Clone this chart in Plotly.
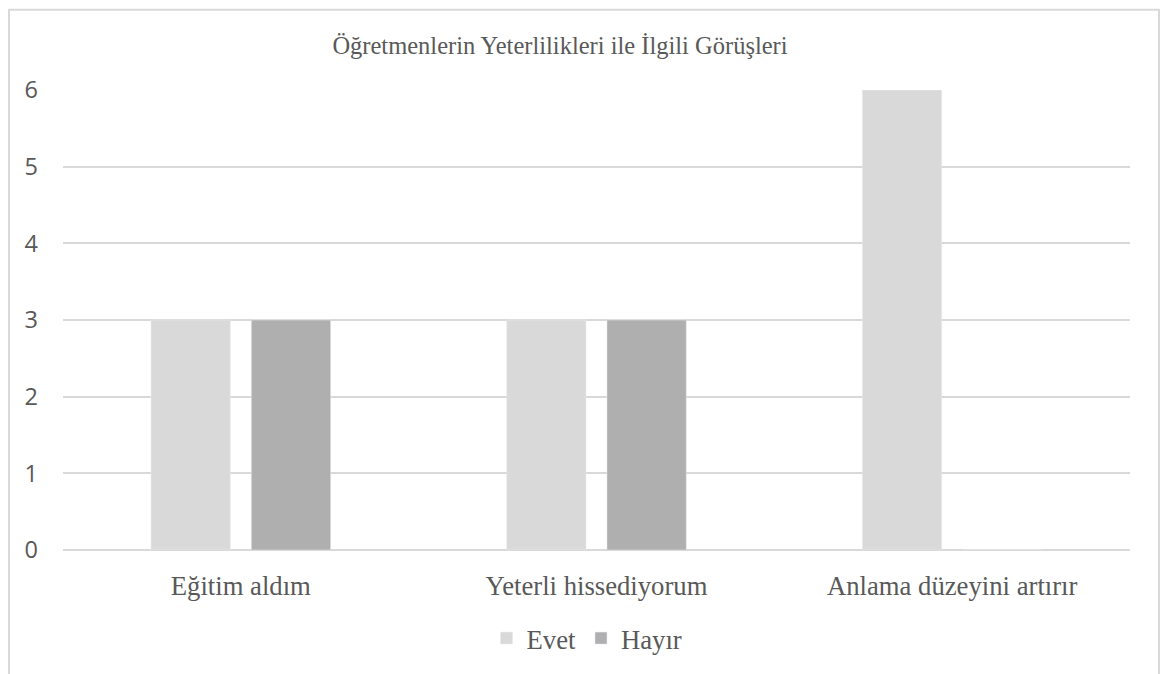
import plotly.graph_objects as go

categories = ["Eğitim aldım", "Yeterli hissediyorum", "Anlama düzeyini artırır"]
evet = [3, 3, 6]
hayir = [3, 3, 0]
y_ticks = [0, 1, 2, 3, 4, 5, 6]

serif = "Liberation Serif, Times New Roman, serif"
sans = "Open Sans, Calibri, sans-serif"
text_col = "#595959"

fig = go.Figure()
fig.add_trace(go.Bar(name="Evet", x=categories, y=evet, marker_color="#d9d9d9"))
fig.add_trace(go.Bar(name="Hayır", x=categories, y=hayir, marker_color="#afafaf"))

# page body has an 8px margin; work in screen coords and subtract it
OFF = 8
W, H = 1170 - OFF, 674 - OFF
left, right, top, bottom = 63, 1130, 90, 554  # plot area in screen coords
ml, mr, mt, mb = left - OFF, W - (right - OFF), top - OFF, H - (bottom - OFF)
pw, ph = W - ml - mr, H - mt - mb

def px(x):
    return (x - OFF - ml) / pw

def py(y):
    return (H - mb - (y - OFF)) / ph

fig.update_layout(
    width=W, height=H,
    margin=dict(l=ml, r=mr, t=mt, b=mb),
    paper_bgcolor="white", plot_bgcolor="white",
    barmode="group", bargap=0.436, bargroupgap=0.209,
    title=dict(text="Öğretmenlerin Yeterlilikleri ile İlgili Görüşleri",
               xref="container", x=(560 - OFF) / W, xanchor="center",
               y=1 - (45 - OFF) / H, yanchor="middle",
               font=dict(family=serif, size=24.5, color=text_col)),
    xaxis=dict(showgrid=False, showline=False, ticks="",
               tickfont=dict(family=serif, size=26.7, color=text_col),
               ticklabelstandoff=17),
    yaxis=dict(range=[0, 6], tickvals=y_ticks, showgrid=True, gridcolor="#d9d9d9",
               gridwidth=1.5, zeroline=True, zerolinecolor="#d9d9d9", zerolinewidth=1.5,
               showline=False, ticks="", ticklabelstandoff=24,
               tickfont=dict(family=sans, size=23.5, color=text_col)),
    legend=dict(orientation="h", x=px(587), xanchor="center", y=py(643), yanchor="middle",
                font=dict(family=serif, size=26.7, color=text_col),
                itemwidth=30, traceorder="normal"),
    showlegend=True,
    shapes=[dict(type="rect", xref="paper", yref="paper",
                 x0=px(9), x1=px(1159), y0=py(700), y1=py(9),
                 line=dict(color="#d9d9d9", width=2), fillcolor="rgba(0,0,0,0)")],
)

fig.write_html("out.html")
